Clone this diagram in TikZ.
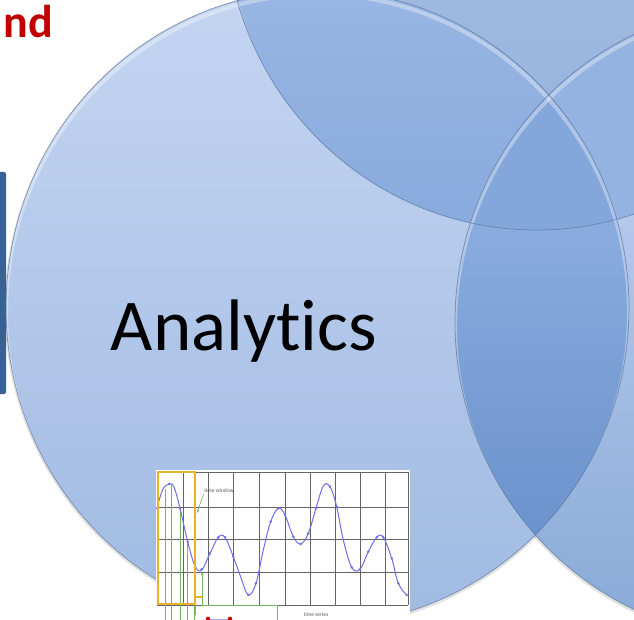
\documentclass[tikz,border=0pt]{standalone}
\usepackage{fontspec}
\setmainfont{Carlito}[Ligatures=NoCommon]
\usetikzlibrary{arrows.meta}
\definecolor{mTop}{RGB}{196,213,241}
\definecolor{mBot}{RGB}{160,186,226}
\definecolor{tTop}{RGB}{172,195,229}
\definecolor{tBot}{RGB}{150,178,220}
\definecolor{rTop}{RGB}{202,216,246}
\definecolor{rBot}{RGB}{136,169,215}
\definecolor{mtTop}{RGB}{180,201,237}
\definecolor{mtBot}{RGB}{136,170,221}
\definecolor{mrTop}{RGB}{160,189,235}
\definecolor{mrBot}{RGB}{96,138,198}
\definecolor{trCol}{RGB}{148,179,224}
\definecolor{mtrCol}{RGB}{132,167,219}
\definecolor{edgeCol}{RGB}{90,115,155}
\definecolor{barCol}{RGB}{58,97,148}
\definecolor{redText}{RGB}{192,0,0}
\definecolor{waveCol}{RGB}{110,110,235}
\definecolor{winCol}{RGB}{230,180,40}
\definecolor{grnCol}{RGB}{120,180,90}
\definecolor{gridCol}{RGB}{100,100,100}
\newcommand\elM{(317.5,307.7) ellipse [x radius=311.5pt, y radius=317.6pt]}
\newcommand\elT{(536.4,-87.6) ellipse [x radius=311.5pt, y radius=317.6pt]}
\newcommand\elR{(766.5,322) ellipse [x radius=311.5pt, y radius=317.6pt]}
\tikzset{
  outline/.style={draw=edgeCol, draw opacity=0.7, line width=0.7pt},
  hilite/.style={draw=white, draw opacity=0.35, line width=4pt},
  shadowline/.style={draw=black, draw opacity=0.12, line width=3pt},
  gridline/.style={draw=gridCol, line width=0.7pt},
  curve/.style={draw=waveCol, line width=1pt},
  gline/.style={draw=grnCol, line width=0.6pt},
  tiny/.style={font=\fontsize{5.5}{6}\selectfont, text=black!65, inner sep=0.5pt}
}
\begin{document}
\begin{tikzpicture}[x=1pt,y=-1pt]
\useasboundingbox (0,0) rectangle (634,620);
\clip (0,0) rectangle (634,620);
\fill[white] (0,0) rectangle (634,620);
% soft shadows
\path[shadowline] (317.5,309) ellipse [x radius=311.5pt, y radius=317.6pt];
\path[shadowline] (766.5,323.5) ellipse [x radius=311.5pt, y radius=317.6pt];
% single fills
\shade[top color=mTop, bottom color=mBot] \elM;
\shade[top color=tTop, bottom color=tBot] \elT;
\shade[top color=rTop, bottom color=rBot] \elR;
% overlaps
\begin{scope}\clip \elM; \shade[top color=mtTop, bottom color=mtBot] \elT;\end{scope}
\begin{scope}\clip \elM; \shade[top color=mrTop, bottom color=mrBot] \elR;\end{scope}
\begin{scope}\clip \elT; \fill[trCol] \elR;\end{scope}
\begin{scope}\clip \elM; \clip \elT; \fill[mtrCol] \elR;\end{scope}
% highlights
\begin{scope}\clip \elM; \path[hilite] (317.5,312) ellipse [x radius=311.5pt, y radius=317.6pt];\end{scope}
\begin{scope}\clip \elT; \path[hilite] (536.4,-83.6) ellipse [x radius=311.5pt, y radius=317.6pt];\end{scope}
\begin{scope}\clip \elR; \path[hilite] (766.5,326) ellipse [x radius=311.5pt, y radius=317.6pt];\end{scope}
% outlines
\path[outline] \elM;
\path[outline] \elT;
\path[outline] \elR;
% left bar
\fill[barCol, rounded corners=2pt] (-6,172) rectangle (6,394);
% title fragment
\node[anchor=base east, inner sep=0pt, text=redText, font=\fontsize{46}{50}\selectfont\bfseries] (nd) at (53,38) {nd};
% main label
\node[anchor=base, inner sep=0pt, text=black, font=\fontsize{73}{80}\selectfont] (analytics) at (244,350) {Analytics};
% chart picture
\fill[white] (156,470) rectangle (410,625);
\foreach \x in {157,183,208,233,259,285,310,335,360,385,408} \draw[gridline] (\x,472) -- (\x,605);
\foreach \y in {472,507,539,572,605} \draw[gridline] (157,\y) -- (408,\y);
\foreach \x/\y in {165/489,171.7/485,180/508.3,187.7/541.7,194.3/564} \draw[gline] (\x,\y) -- (\x,625);
\draw[curve] plot[smooth, tension=0.6] coordinates {(157.3,506.7) (163,489) (169.3,484) (174,487) (180,508.3) (187.7,541.7) (195,566) (201.7,570) (210,553.3) (218.3,537.3) (225,537.3) (233.3,556.7) (240.7,577) (248.3,595) (256,583.3) (263.3,550) (270.7,521.7) (278.3,508.3) (285,515) (293.3,536.7) (300.7,544) (308.3,533.3) (316,508.3) (323.3,486) (330,486.7) (336.7,506.7) (343.3,540) (351.7,567.3) (360,569.3) (368.3,551.7) (376.7,537.3) (383.3,537.3) (391.7,558.3) (398.3,583.3) (406.7,595)};
\foreach \x/\y in {157.3/508.3,169.3/484,180/508.3,187.7/541.7,195/566,201.7/569.3,210/553.3,218.3/537.3,225/537.3,233.3/556.7,248.3/595,256/583.3,270.7/521.7,278.3/508.3,285/515,293.3/536.7,300.7/544,308.3/533.3,316/508.3,330/486.7,336.7/506.7,351.7/567.3,360/569.3,368.3/551.7,376.7/537.3,383.3/537.3,391.7/558.3,398.3/583.3,406.7/595}
  \fill[waveCol] (\x,\y) circle[radius=1.4pt];
\draw[winCol, line width=1.5pt] (158,472) rectangle (195,604);
\draw[winCol, line width=1.2pt] (195,597) -- (203,597);
\node[tiny] (tw) at (219,491) {time window};
\coordinate (twTip) at (197,513);
\draw[gline, -{Stealth[length=3.5pt]}] (tw.south west) -- (twTip);
\coordinate (trough) at (202,572);
\coordinate (g1) at (202,605);
\coordinate (g2) at (277,605);
\coordinate (g3) at (277,625);
\draw[gline, {Stealth[length=3.5pt]}-] (trough) -- (g1) -- (g2) -- (g3);
\coordinate (d1) at (195,605);
\coordinate (d2) at (195,616);
\draw[gline, -{Stealth[length=3.5pt]}] (d1) -- (d2);
\coordinate (r1) at (208,619);
\coordinate (r2) at (230,619);
\draw[waveCol!60, line width=0.8pt] (r1) -- (r2);
\fill[red!85!black] (r1) circle[radius=2.3pt];
\fill[red!85!black] (r2) circle[radius=2.3pt];
\node[tiny] (ts) at (316,615) {time series};
\end{tikzpicture}
\end{document}
